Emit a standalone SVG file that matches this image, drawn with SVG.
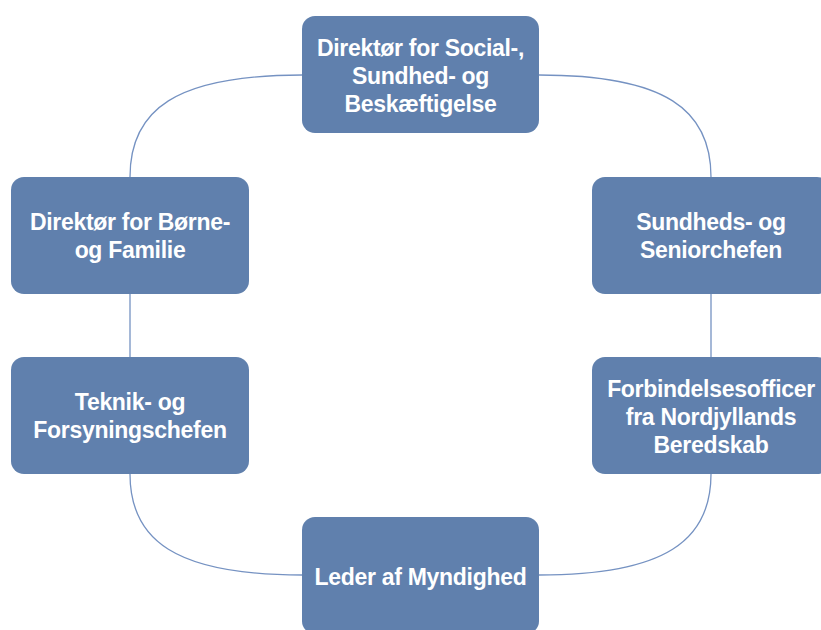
<svg xmlns="http://www.w3.org/2000/svg" width="821" height="630" viewBox="0 0 821 630">
<style>
.box{fill:#6080ad;}
.lbl{font-family:"Liberation Sans",Arial,sans-serif;font-weight:bold;font-size:23px;letter-spacing:-0.3px;fill:#ffffff;text-anchor:middle;}
.con{fill:none;stroke:#7592c2;stroke-width:1.3;}
</style>
<rect width="821" height="630" fill="#ffffff"/>
<g id="connectors">
<path class="con" d="M302,75 C175,75 130,110 130,177"/>
<path class="con" d="M539,75 C666,75 711,110 711,177"/>
<path class="con" d="M130,294 L130,357"/>
<path class="con" d="M711,294 L711,357"/>
<path class="con" d="M130,474 C130,540 175,575 302,575"/>
<path class="con" d="M539,575 C666,575 711,540 711,474"/>
</g>
<g id="n-social">
<rect class="box" x="302" y="16" width="237" height="117" rx="13"/>
<text class="lbl" x="420.5" y="56">Direktør for Social-,</text>
<text class="lbl" x="420.5" y="84">Sundhed- og</text>
<text class="lbl" x="420.5" y="112">Beskæftigelse</text>
</g>
<g id="n-boerne">
<rect class="box" x="11" y="177" width="238" height="117" rx="13"/>
<text class="lbl" x="130" y="230">Direktør for Børne-</text>
<text class="lbl" x="130" y="258">og Familie</text>
</g>
<g id="n-sundhed">
<rect class="box" x="592" y="177" width="238" height="117" rx="13"/>
<text class="lbl" x="711" y="230">Sundheds- og</text>
<text class="lbl" x="711" y="258">Seniorchefen</text>
</g>
<g id="n-teknik">
<rect class="box" x="11" y="357" width="238" height="117" rx="13"/>
<text class="lbl" x="130" y="410">Teknik- og</text>
<text class="lbl" x="130" y="438">Forsyningschefen</text>
</g>
<g id="n-forbindelse">
<rect class="box" x="592" y="357" width="238" height="117" rx="13"/>
<text class="lbl" x="711" y="397">Forbindelsesofficer</text>
<text class="lbl" x="711" y="425">fra Nordjyllands</text>
<text class="lbl" x="711" y="453">Beredskab</text>
</g>
<g id="n-leder">
<rect class="box" x="302" y="517" width="237" height="117" rx="13"/>
<text class="lbl" x="420.5" y="585">Leder af Myndighed</text>
</g>
</svg>
